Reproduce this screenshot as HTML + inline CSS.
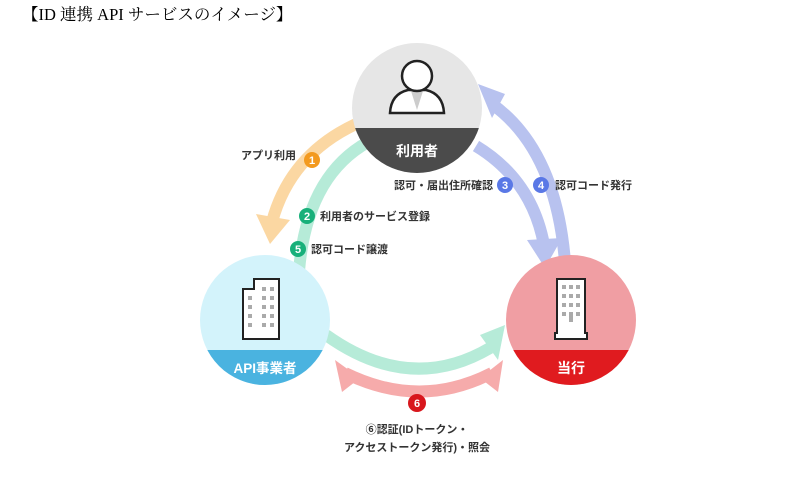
<!DOCTYPE html>
<html><head><meta charset="utf-8"><style>
body{margin:0;background:#fff;width:800px;height:487px;overflow:hidden}
svg{display:block}
.t{font-family:"Liberation Sans","Noto Sans CJK JP",sans-serif;font-weight:bold;fill:#333;font-size:11px}
.w{font-family:"Liberation Sans","Noto Sans CJK JP",sans-serif;font-weight:bold;fill:#fff}
</style></head><body>
<svg width="800" height="487" viewBox="0 0 800 487">
<defs>
<clipPath id="c1"><circle cx="417" cy="108" r="65"/></clipPath>
<clipPath id="c2"><circle cx="265" cy="320" r="65"/></clipPath>
<clipPath id="c3"><circle cx="571" cy="320" r="65"/></clipPath>
</defs>
<text x="22" y="20" font-family="'Liberation Serif','Noto Serif CJK SC',serif" font-size="16.5" fill="#000">【ID 連携 API サービスのイメージ】</text>

<g fill="none" stroke-width="12">
<path d="M356 124 Q290 155 272 222" stroke="#fbd7a2"/>
<path d="M368 142 Q300 180 298 292" stroke="#b6ebd8"/>
<path d="M326 335 Q410 395 490 348" stroke="#b6ebd8"/>
<path d="M345 373 Q420 410 492 373" stroke="#f6abab"/>
<path d="M476 146 Q532 180 544 245" stroke="#b8c2ef"/>
<path d="M565 262 Q556 150 492 104" stroke="#b8c2ef"/>
</g>
<polygon points="256,214 290,220 270,244" fill="#fbd7a2"/>
<polygon points="480,335 505,325 498,360" fill="#b6ebd8"/>
<polygon points="335,360 360,378 342,392" fill="#f6abab"/>
<polygon points="503,360 480,378 498,392" fill="#f6abab"/>
<polygon points="527,240 562,238 545,268" fill="#b8c2ef"/>
<polygon points="478,84 505,94 492,118" fill="#b8c2ef"/>

<g clip-path="url(#c1)">
<rect x="350" y="40" width="135" height="140" fill="#e6e6e6"/>
<rect x="350" y="128" width="135" height="50" fill="#4b4b4b"/>
</g>
<path d="M390 113 Q391 94 408 90 L426 90 Q443 94 444 113 Z" fill="#fff" stroke="#222" stroke-width="2.5"/>
<path d="M411 91 L417 110 L423 91 Z" fill="#ccc"/>
<circle cx="417" cy="76" r="15" fill="#fff" stroke="#222" stroke-width="2.5"/>
<text class="w" x="417" y="156" font-size="14" text-anchor="middle">利用者</text>

<g clip-path="url(#c2)">
<rect x="198" y="253" width="135" height="140" fill="#d3f3fb"/>
<rect x="198" y="350" width="135" height="45" fill="#4ab3e0"/>
</g>
<path d="M243 289 L254 289 L254 279 L279 279 L279 339 L243 339 Z" fill="#fff" stroke="#222" stroke-width="2"/>
<g fill="#aaa">
<rect x="248" y="296" width="4" height="4"/><rect x="248" y="305" width="4" height="4"/><rect x="248" y="314" width="4" height="4"/><rect x="248" y="323" width="4" height="4"/>
<rect x="262" y="287" width="4" height="4"/><rect x="270" y="287" width="4" height="4"/>
<rect x="262" y="296" width="4" height="4"/><rect x="270" y="296" width="4" height="4"/>
<rect x="262" y="305" width="4" height="4"/><rect x="270" y="305" width="4" height="4"/>
<rect x="262" y="314" width="4" height="4"/><rect x="270" y="314" width="4" height="4"/>
<rect x="262" y="323" width="4" height="4"/><rect x="270" y="323" width="4" height="4"/>
</g>
<text class="w" x="265" y="373" font-size="13.5" text-anchor="middle">API事業者</text>

<g clip-path="url(#c3)">
<rect x="504" y="253" width="135" height="140" fill="#f09ea3"/>
<rect x="504" y="350" width="135" height="45" fill="#e01b1f"/>
</g>
<path d="M555 339 L555 333 L557 333 L557 279 L585 279 L585 333 L587 333 L587 339 Z" fill="#fff" stroke="#222" stroke-width="2"/>
<g fill="#aaa">
<rect x="562" y="285" width="4" height="4"/><rect x="569" y="285" width="4" height="4"/><rect x="576" y="285" width="4" height="4"/>
<rect x="562" y="294" width="4" height="4"/><rect x="569" y="294" width="4" height="4"/><rect x="576" y="294" width="4" height="4"/>
<rect x="562" y="303" width="4" height="4"/><rect x="569" y="303" width="4" height="4"/><rect x="576" y="303" width="4" height="4"/>
<rect x="562" y="312" width="4" height="4"/><rect x="569" y="312" width="4" height="10"/><rect x="576" y="312" width="4" height="4"/>
</g>
<text class="w" x="571" y="373" font-size="14" text-anchor="middle">当行</text>

<g font-family="'Liberation Sans',sans-serif" font-weight="bold" font-size="11" fill="#fff" text-anchor="middle">
<circle cx="312" cy="160" r="8" fill="#f39a1f"/><text x="312" y="164">1</text>
<circle cx="307" cy="216" r="8" fill="#18b07a"/><text x="307" y="220">2</text>
<circle cx="298" cy="249" r="8" fill="#18b07a"/><text x="298" y="253">5</text>
<circle cx="505" cy="185" r="8" fill="#5a78e6"/><text x="505" y="189">3</text>
<circle cx="541" cy="185" r="8" fill="#5a78e6"/><text x="541" y="189">4</text>
<circle cx="417" cy="403" r="9" fill="#d8171d"/><text x="417" y="407">6</text>
</g>

<text class="t" x="296" y="159" text-anchor="end">アプリ利用</text>
<text class="t" x="320" y="220">利用者のサービス登録</text>
<text class="t" x="311" y="253">認可コード譲渡</text>
<text class="t" x="493" y="189" text-anchor="end">認可・届出住所確認</text>
<text class="t" x="555" y="189">認可コード発行</text>
<text class="t" x="417" y="433" text-anchor="middle" font-size="11">⑥認証(IDトークン・</text>
<text class="t" x="417" y="451" text-anchor="middle" font-size="11">アクセストークン発行)・照会</text>
</svg>
</body></html>
